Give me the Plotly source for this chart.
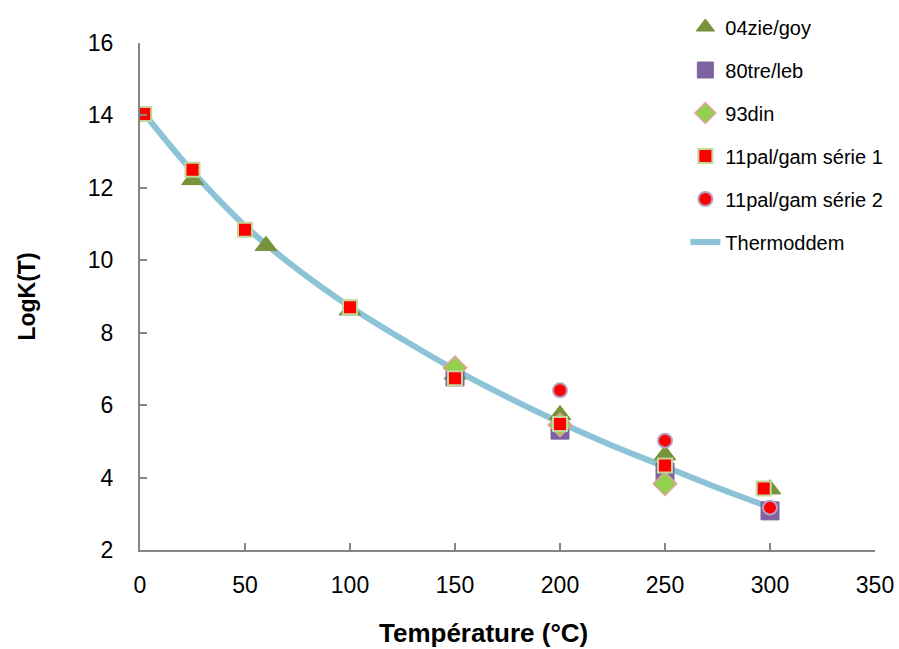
import plotly.graph_objects as go

# --- data ---
zie_T = [25, 60, 100, 150, 200, 250, 300]
zie_K = [12.22, 10.40, 8.62, 6.85, 5.73, 4.62, 3.68]

tre_T = [150, 200, 250, 300]
tre_K = [6.78, 5.31, 4.15, 3.08]

din_T = [150, 200, 250]
din_K = [7.03, 5.45, 3.83]

pal1_T = [2, 25, 50, 100, 150, 200, 250, 297]
pal1_K = [14.04, 12.50, 10.84, 8.70, 6.74, 5.48, 4.33, 3.70]

pal2_T = [200, 250, 300]
pal2_K = [6.41, 5.02, 3.17]

thermo_T = [2, 25, 50, 75, 100, 125, 150, 175, 200, 225, 250, 275, 300]
thermo_K = [14.05, 12.45, 10.95, 9.75, 8.72, 7.82, 6.98, 6.22, 5.52, 4.88, 4.30, 3.72, 3.18]

FONT = "Liberation Sans, Arial, sans-serif"

fig = go.Figure()

fig.add_trace(go.Scatter(
    x=thermo_T, y=thermo_K, mode="lines", name="Thermoddem",
    line=dict(color="#8CC3D6", width=6, shape="spline"),
    legendgroup="g6", legendrank=6))

fig.add_trace(go.Scatter(
    x=zie_T, y=zie_K, mode="markers", name="04zie/goy",
    marker=dict(symbol="triangle-up", size=19, color="#77933C",
                line=dict(color="#77933C", width=1)),
    legendgroup="g1", legendrank=1))

fig.add_trace(go.Scatter(
    x=tre_T, y=tre_K, mode="markers", name="80tre/leb",
    marker=dict(symbol="square", size=18, color="#7F62A1",
                line=dict(color="#7F62A1", width=1)),
    legendgroup="g2", legendrank=2))

fig.add_trace(go.Scatter(
    x=din_T, y=din_K, mode="markers", name="93din",
    marker=dict(symbol="diamond", size=18, color="#92D050",
                line=dict(color="#E6A0A0", width=1.5)),
    legendgroup="g3", legendrank=3))

fig.add_trace(go.Scatter(
    x=pal1_T, y=pal1_K, mode="markers", name="11pal/gam série 1",
    marker=dict(symbol="square", size=14, color="#FF0000",
                line=dict(color="#C3D69B", width=2)),
    legendgroup="g4", legendrank=4))

fig.add_trace(go.Scatter(
    x=pal2_T, y=pal2_K, mode="markers", name="11pal/gam série 2",
    marker=dict(symbol="circle", size=14, color="#FF0000",
                line=dict(color="#B3A2C7", width=2)),
    legendgroup="g5", legendrank=5))

fig.update_layout(
    width=899, height=649,
    margin=dict(l=140, r=24, t=43, b=99, autoexpand=False),
    paper_bgcolor="white", plot_bgcolor="white",
    font=dict(family=FONT, size=20, color="black"),
    showlegend=True,
    legend=dict(x=0.742, y=1.07, xanchor="left", yanchor="top",
                font=dict(family=FONT, size=20, color="black"),
                tracegroupgap=14, bgcolor="rgba(0,0,0,0)",
                itemwidth=30),
    xaxis=dict(range=[0, 350], dtick=50, tick0=0,
               showgrid=False, zeroline=False,
               showline=True, linecolor="#868686", linewidth=2,
               ticks="inside", ticklen=7, tickcolor="#868686", tickwidth=2,
               tickfont=dict(family=FONT, size=23, color="black"),
               ticklabelstandoff=13),
    yaxis=dict(range=[2, 16], dtick=2, tick0=2,
               showgrid=False, zeroline=False,
               showline=True, linecolor="#868686", linewidth=2,
               ticks="inside", ticklen=7, tickcolor="#868686", tickwidth=2,
               tickfont=dict(family=FONT, size=23, color="black"),
               ticklabelstandoff=20,
               title=dict(text="<b>LogK(T)</b>",
                          font=dict(family=FONT, size=23, color="black"),
                          standoff=46)),
    annotations=[dict(
        text="<b>Température (°C)</b>", xref="paper", yref="paper",
        x=0.468, y=-0.164, xanchor="center", yanchor="middle",
        showarrow=False, font=dict(family=FONT, size=26, color="black"))],
)

fig.write_html("out.html",
               config={"displayModeBar": False},
               post_script="document.body.style.margin='0';"
                           "document.body.style.overflow='hidden';")
